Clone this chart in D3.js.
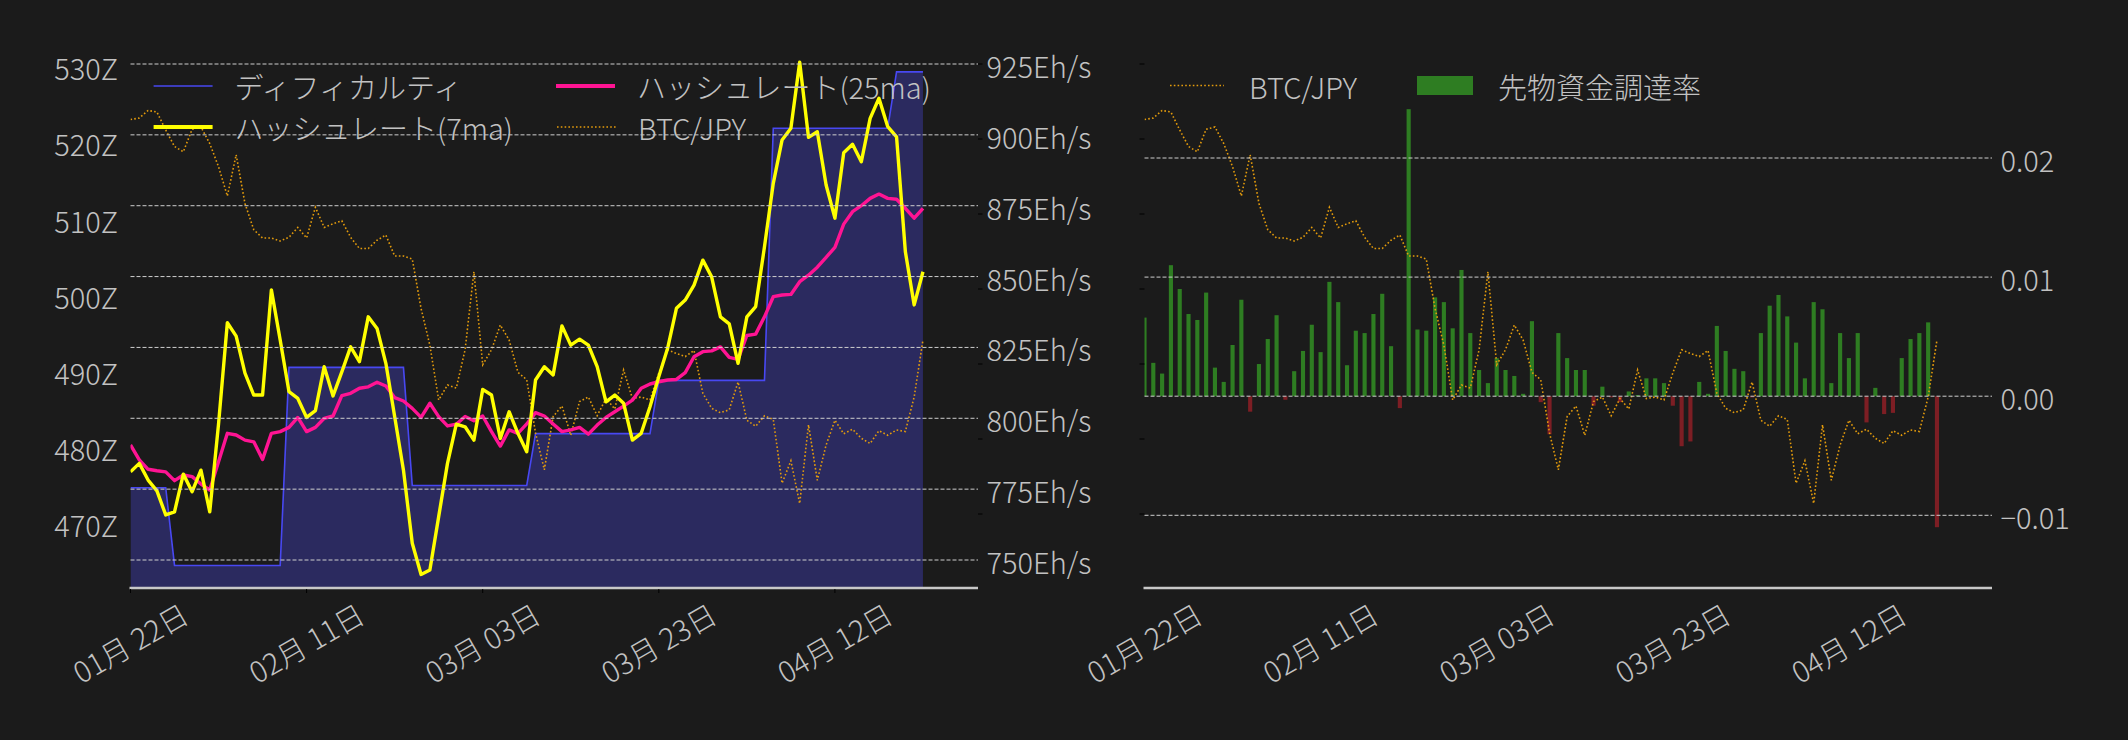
<!DOCTYPE html>
<html><head><meta charset="utf-8">
<script src="https://cdn.jsdelivr.net/npm/d3@7"></script>
<style>
html,body{margin:0;padding:0;background:#1b1b1b;}
svg{display:block;}
text{font-family:"Noto Sans CJK JP","Noto Sans",sans-serif;font-weight:300;fill:#c2c2c2;}
</style></head><body>
<svg id="chart" width="2128" height="740"></svg>
<script>
// ---------------- data (daily, from 2025-01-22) ----------------
const startDate = "2025-01-22";
const difficultyZ = [
 474.8,474.8,474.8,474.8,474.8,
 464.6,464.6,464.6,464.6,464.6,464.6,464.6,464.6,464.6,464.6,464.6,464.6,464.6,
 490.6,490.6,490.6,490.6,490.6,490.6,490.6,490.6,490.6,490.6,490.6,490.6,490.6,490.6,
 475.1,475.1,475.1,475.1,475.1,475.1,475.1,475.1,475.1,475.1,475.1,475.1,475.1,475.1,
 481.9,481.9,481.9,481.9,481.9,481.9,481.9,481.9,481.9,481.9,481.9,481.9,481.9,481.9,
 488.9,488.9,488.9,488.9,488.9,488.9,488.9,488.9,488.9,488.9,488.9,488.9,488.9,
 522.0,522.0,522.0,522.0,522.0,522.0,522.0,522.0,522.0,522.0,522.0,522.0,522.0,522.0,
 529.4,529.4,529.4,529.4];
const hashrate7ma = [
 781.1,784.1,778.2,774.4,765.9,767.0,780.3,774.1,781.7,767.0,
 798.0,833.7,829.0,815.9,808.2,808.2,845.3,827.6,809.4,807.0,
 800.3,802.7,818.2,807.9,816.4,825.2,820.0,835.8,831.7,819.4,
 800.6,781.7,755.9,744.9,746.5,765.3,784.1,797.9,797.0,792.3,
 810.2,808.2,792.9,802.3,794.7,788.2,813.5,818.2,815.3,832.6,
 825.8,827.9,825.8,818.2,805.8,808.2,805.3,792.3,794.7,804.1,
 814.7,824.7,838.8,841.7,847.0,855.8,849.9,835.8,833.3,819.4,
 835.8,839.4,860.5,882.9,898.2,902.3,925.6,899.1,901.1,882.3,
 870.6,893.7,896.7,890.5,905.8,912.9,902.9,899.3,858.8,840.0,
 851.7];
const hashrate25ma = [
 790.6,785.3,782.0,781.5,781.1,778.0,780.0,779.4,776.8,774.7,
 784.7,794.7,794.1,792.3,791.7,785.5,794.7,795.3,796.8,800.3,
 795.3,796.8,800.0,800.8,808.0,808.8,810.6,811.1,812.7,811.4,
 807.3,806.1,803.5,800.3,805.3,800.6,797.3,797.9,800.6,799.1,
 800.8,795.3,790.2,795.9,794.7,798.0,802.0,800.8,798.0,795.3,
 795.9,796.8,794.4,797.6,800.3,802.3,804.3,806.4,810.6,812.1,
 812.9,813.5,813.7,816.1,821.7,823.5,823.8,825.2,821.5,820.8,
 829.2,829.7,835.8,842.9,843.5,843.7,848.2,850.5,853.3,856.8,
 860.3,868.5,872.9,875.0,877.6,879.1,877.6,877.3,874.1,870.6,
 874.1];
const btcJpy = [
 16260000,16280000,16380000,16360000,16120000,15900000,15830000,16130000,16160000,15940000,
 15630000,15240000,15790000,15140000,14790000,14680000,14680000,14640000,14690000,14820000,
 14680000,15090000,14820000,14870000,14910000,14690000,14540000,14540000,14650000,14720000,
 14440000,14440000,14400000,13740000,13250000,12520000,12720000,12680000,13190000,14230000,
 12990000,13190000,13520000,13320000,12890000,12790000,12080000,11590000,12300000,12440000,
 12050000,12500000,12560000,12310000,12540000,12400000,12920000,12540000,12560000,12520000,
 12880000,13190000,13140000,13100000,13180000,12610000,12410000,12350000,12390000,12760000,
 12250000,12170000,12310000,12260000,11410000,11710000,11140000,12190000,11450000,11920000,
 12250000,12070000,12130000,12010000,11940000,12110000,12050000,12120000,12100000,12560000,
 13320000];
const fundingRate = [
 0.0066,0.0028,0.0019,0.0110,0.0090,0.0069,0.0064,0.0087,0.0024,0.0012,
 0.0043,0.0081,-0.0013,0.0027,0.0048,0.0068,-0.0003,0.0021,0.0038,0.0060,
 0.0037,0.0096,0.0079,0.0026,0.0055,0.0053,0.0069,0.0086,0.0042,-0.0010,
 0.0241,0.0056,0.0055,0.0083,0.0079,0.0057,0.0106,0.0053,0.0022,0.0011,
 0.0032,0.0022,0.0017,0.0002,0.0063,-0.0005,-0.0032,0.0053,0.0032,0.0022,
 0.0022,-0.0008,0.0008,-0.0001,-0.0005,0.0004,0.0001,0.0015,0.0015,0.0011,
 -0.0008,-0.0042,-0.0038,0.0012,0.0002,0.0059,0.0038,0.0023,0.0021,-0.0001,
 0.0053,0.0076,0.0085,0.0067,0.0045,0.0015,0.0079,0.0073,0.0011,0.0053,
 0.0032,0.0053,-0.0022,0.0007,-0.0015,-0.0014,0.0032,0.0048,0.0053,0.0062,
 -0.0110];
const xTickDates = ["2025-01-22","2025-02-11","2025-03-03","2025-03-23","2025-04-12"];
const zTicks = [470,480,490,500,510,520,530];
const hashTicks = [750,775,800,825,850,875,900,925];
const btcTicks = [11e6,12e6,13e6,14e6,15e6,16e6,17e6];
const frTicks = [-0.01,0.00,0.01,0.02];
const legendLeft = ["ディフィカルティ","ハッシュレート(7ma)","ハッシュレート(25ma)","BTC/JPY"];
const legendRight = ["BTC/JPY","先物資金調達率"];

// ---------------- setup ----------------
const svg = d3.select("#chart");
svg.append("rect").attr("width",2128).attr("height",740).attr("fill","#1b1b1b");
const parse = d3.utcParse("%Y-%m-%d");
const t0 = parse(startDate);
const dates = difficultyZ.map((_, i) => d3.utcDay.offset(t0, i));
const tEnd = new Date(+t0 + 96.25 * 864e5);
const fmt = d3.utcFormat("%m月 %d日");
const TOP = 44, BOTTOM = 588;
const C = {bg:"#1b1b1b", text:"#c2c2c2", grid:"#cfcfcf", spine:"#c8c8c8",
  blue:"#4848f2", fill:"#2b2a5f", yellow:"#ffff00", pink:"#ff1493", btc:"#e39b0c",
  green:"#2e7d22", red:"#7d1e24"};
const FS = 29;

function panel(x0, x1, id) {
  const x = d3.scaleUtc().domain([t0, tEnd]).range([x0, x1]);
  const g = svg.append("g");
  svg.append("clipPath").attr("id", id).append("rect")
    .attr("x", x0).attr("y", TOP).attr("width", x1 - x0).attr("height", BOTTOM - TOP);
  return {x, g, x0, x1};
}

// y scales (domain = tick values, range = pixel positions of those ticks)
const yZ = d3.scaleLinear().domain([470, 530]).range([524.3, 67.3]);
const yHash = d3.scaleLinear().domain([750, 925]).range([560, 64]);
const yBtc = d3.scaleLinear().domain([11e6, 17e6]).range([514, 64]);
const yFr = d3.scaleLinear().domain([-0.01, 0.02]).range([515.3, 158]);

// ================= LEFT PANEL =================
const P1 = panel(130.5, 978, "clipL");
const gl = P1.g;
const xL = P1.x;
const plotL = gl.append("g").attr("clip-path", "url(#clipL)");

plotL.append("path")
  .attr("d", d3.area().x((d, i) => xL(dates[i])).y0(BOTTOM).y1(d => yZ(d))(difficultyZ))
  .attr("fill", C.fill);
plotL.append("path")
  .attr("d", d3.line().x((d, i) => xL(dates[i])).y(d => yZ(d))(difficultyZ))
  .attr("fill", "none").attr("stroke", C.blue).attr("stroke-width", 1.6);

gl.append("g").selectAll("line").data(hashTicks).join("line")
  .attr("x1", P1.x0).attr("x2", P1.x1)
  .attr("y1", d => yHash(d)).attr("y2", d => yHash(d))
  .attr("stroke", C.grid).attr("stroke-width", 1).attr("stroke-dasharray", "4,2");

plotL.append("path")
  .attr("d", d3.line().x((d, i) => xL(dates[i])).y(d => yBtc(d))(btcJpy))
  .attr("fill", "none").attr("stroke", C.btc).attr("stroke-width", 1.6)
  .attr("stroke-dasharray", "1.6,2.2");
plotL.append("path")
  .attr("d", d3.line().x((d, i) => xL(dates[i])).y(d => yHash(d))(hashrate25ma))
  .attr("fill", "none").attr("stroke", C.pink).attr("stroke-width", 3.4)
  .attr("stroke-linejoin", "round");
plotL.append("path")
  .attr("d", d3.line().x((d, i) => xL(dates[i])).y(d => yHash(d))(hashrate7ma))
  .attr("fill", "none").attr("stroke", C.yellow).attr("stroke-width", 3.4)
  .attr("stroke-linejoin", "round");

gl.append("line").attr("x1", P1.x0 - 1).attr("x2", P1.x1).attr("y1", BOTTOM).attr("y2", BOTTOM)
  .attr("stroke", C.spine).attr("stroke-width", 2.4);

const xTicks = xTickDates.map(parse);
gl.append("g").selectAll("line").data(xTicks).join("line")
  .attr("x1", d => xL(d)).attr("x2", d => xL(d)).attr("y1", BOTTOM + 1).attr("y2", BOTTOM + 5)
  .attr("stroke", "#000").attr("stroke-width", 1);
function xLabels(g, x) {
  g.append("g").selectAll("text").data(xTicks).join("text")
    .attr("transform", d => `translate(${x(d) - 1},641.5) rotate(-30)`)
    .attr("text-anchor", "middle").attr("dominant-baseline", "central")
    .attr("font-size", FS).text(d => fmt(d));
}
xLabels(gl, xL);

gl.append("g").selectAll("text").data(zTicks).join("text")
  .attr("x", 118).attr("y", d => yZ(d)).attr("text-anchor", "end")
  .attr("dominant-baseline", "central").attr("font-size", FS).text(d => d + "Z");
gl.append("g").selectAll("text").data(hashTicks).join("text")
  .attr("x", 986.5).attr("y", d => yHash(d) + 1).attr("text-anchor", "start")
  .attr("dominant-baseline", "central").attr("font-size", FS).text(d => d + "Eh/s");
gl.append("g").selectAll("line").data(btcTicks).join("line")
  .attr("x1", P1.x1).attr("x2", P1.x1 + 4.5).attr("y1", d => yBtc(d)).attr("y2", d => yBtc(d))
  .attr("stroke", "#000").attr("stroke-width", 1);

const lg = gl.append("g");
const legItems = [
  {t: legendLeft[0], c: C.blue, w: 1.6, dash: null, x: 153.6, y: 86},
  {t: legendLeft[1], c: C.yellow, w: 4, dash: null, x: 153.6, y: 127},
  {t: legendLeft[2], c: C.pink, w: 4, dash: null, x: 556, y: 86},
  {t: legendLeft[3], c: C.btc, w: 1.6, dash: "1.6,2.2", x: 557, y: 127}
];
legItems.forEach(it => {
  lg.append("line").attr("x1", it.x).attr("x2", it.x + 59).attr("y1", it.y).attr("y2", it.y)
    .attr("stroke", it.c).attr("stroke-width", it.w).attr("stroke-dasharray", it.dash);
  lg.append("text").attr("x", it.x + 81).attr("y", it.y).attr("dominant-baseline", "central")
    .attr("font-size", FS).text(it.t);
});

// ================= RIGHT PANEL =================
const P2 = panel(1144.5, 1992, "clipR");
const gr = P2.g;
const xR = P2.x;
const plotR = gr.append("g").attr("clip-path", "url(#clipR)");
const bw = 0.47 * (xR(d3.utcDay.offset(t0, 1)) - xR(t0));
plotR.append("g").selectAll("rect").data(fundingRate).join("rect")
  .attr("x", (d, i) => xR(dates[i]) - bw / 2).attr("width", bw)
  .attr("y", d => Math.min(yFr(d), yFr(0))).attr("height", d => Math.abs(yFr(d) - yFr(0)))
  .attr("fill", d => d >= 0 ? C.green : C.red);
gr.append("g").selectAll("line").data(frTicks).join("line")
  .attr("x1", P2.x0).attr("x2", P2.x1)
  .attr("y1", d => yFr(d)).attr("y2", d => yFr(d))
  .attr("stroke", C.grid).attr("stroke-width", 1).attr("stroke-dasharray", "4,2");
plotR.append("path")
  .attr("d", d3.line().x((d, i) => xR(dates[i])).y(d => yBtc(d))(btcJpy))
  .attr("fill", "none").attr("stroke", C.btc).attr("stroke-width", 1.6)
  .attr("stroke-dasharray", "1.6,2.2");
gr.append("line").attr("x1", P2.x0 - 1).attr("x2", P2.x1).attr("y1", BOTTOM).attr("y2", BOTTOM)
  .attr("stroke", C.spine).attr("stroke-width", 2.4);
xLabels(gr, xR);
const frFmt = d3.format(".2f");
gr.append("g").selectAll("text").data(frTicks).join("text")
  .attr("x", 2000.5).attr("y", d => yFr(d) + 1).attr("text-anchor", "start")
  .attr("dominant-baseline", "central").attr("font-size", FS)
  .text(d => frFmt(d).replace("-", "\u2212"));
gr.append("g").selectAll("line").data(btcTicks).join("line")
  .attr("x1", P2.x0 - 5).attr("x2", P2.x0).attr("y1", d => yBtc(d)).attr("y2", d => yBtc(d))
  .attr("stroke", "#000").attr("stroke-width", 1);

const lr = gr.append("g");
lr.append("line").attr("x1", 1170).attr("x2", 1224).attr("y1", 85.5).attr("y2", 85.5)
  .attr("stroke", C.btc).attr("stroke-width", 1.6).attr("stroke-dasharray", "1.6,2.2");
lr.append("text").attr("x", 1249).attr("y", 85.5).attr("dominant-baseline", "central")
  .attr("font-size", FS).text(legendRight[0]);
lr.append("rect").attr("x", 1417).attr("y", 76).attr("width", 56).attr("height", 19)
  .attr("fill", C.green);
lr.append("text").attr("x", 1498).attr("y", 85.5).attr("dominant-baseline", "central")
  .attr("font-size", FS).text(legendRight[1]);
</script>
</body></html>
